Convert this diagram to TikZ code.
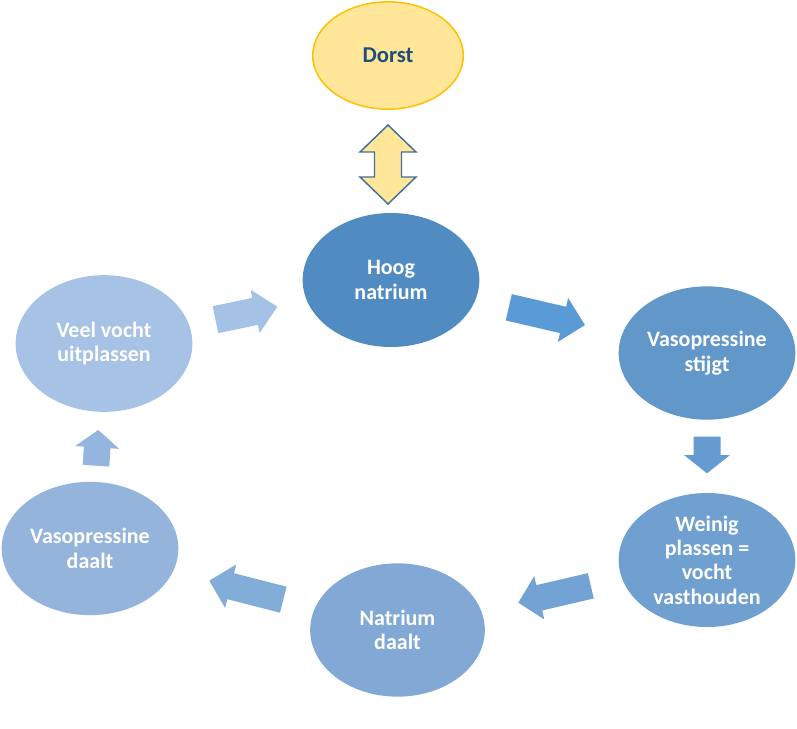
\documentclass[tikz,border=0pt]{standalone}
\usepackage{fontspec}
\setmainfont{Carlito}
\usetikzlibrary{shapes.geometric}
\definecolor{cHoog}{HTML}{508BC1}
\definecolor{cStijgt}{HTML}{6297CA}
\definecolor{cWeinig}{HTML}{6FA0D0}
\definecolor{cNatrium}{HTML}{82A9D6}
\definecolor{cDaalt}{HTML}{94B4DC}
\definecolor{cVeel}{HTML}{A6C2E4}
\definecolor{aOne}{HTML}{5B9BD5}
\definecolor{aTwo}{HTML}{659BD1}
\definecolor{aThree}{HTML}{73A3D4}
\definecolor{aFour}{HTML}{83ADD9}
\definecolor{aFive}{HTML}{94B6DE}
\definecolor{aSix}{HTML}{A4C2E6}
\definecolor{dorstFill}{HTML}{FFE699}
\definecolor{dorstLine}{HTML}{FFC000}
\definecolor{dorstText}{HTML}{1F4E79}
\definecolor{dblLine}{HTML}{41719C}
% #1,#2 back centre (px), #3 page angle, #4 length, #5 shaft width, #6 head width, #7 head length, #8 style
\newcommand\blockarrow[8]{%
  \begin{scope}[shift={(#1,#2)}, rotate=#3]
    \path[#8] (0,{-#5/2}) -- ({#4-#7},{-#5/2}) -- ({#4-#7},{-#6/2}) -- (#4,0)
      -- ({#4-#7},{#6/2}) -- ({#4-#7},{#5/2}) -- (0,{#5/2}) -- cycle;
  \end{scope}}
\tikzset{
  bub/.style={ellipse, inner sep=0pt, minimum width=132.5pt, minimum height=100pt,
    text=white, font=\bfseries\fontsize{16.5}{18.3}\selectfont, align=center},
  barrow/.style={fill=#1, draw=none}
}
\begin{document}
\begin{tikzpicture}[x=0.75pt,y=-0.75pt]
\useasboundingbox (0,0) rectangle (797,729);
\fill[white] (0,0) rectangle (797,729);

\node[ellipse, inner sep=0pt, minimum width=113pt, minimum height=80.5pt,
  fill=dorstFill, draw=dorstLine, line width=1.1pt, text=dorstText,
  font=\bfseries\fontsize{17}{19}\selectfont] (dorst) at (388,55.5) {Dorst};

\node[bub, fill=cHoog, minimum height=100.5pt] (hoog) at (391,280) {Hoog\\natrium};
\node[bub, fill=cStijgt] (stijgt) at (707,353) {Vasopressine\\stijgt};
\node[bub, fill=cWeinig, minimum height=100.5pt] (weinig) at (707,560) {Weinig\\plassen =\\vocht\\vasthouden};
\node[bub, fill=cNatrium, minimum width=131pt] (natrium) at (397.5,630) {Natrium\\daalt};
\node[bub, fill=cDaalt] (daalt) at (90,548.5) {Vasopressine\\daalt};
\node[bub, fill=cVeel, minimum height=102.5pt] (veel) at (104,343.5) {Veel vocht\\uitplassen};

% double arrow between Dorst and Hoog natrium
\path[fill=dorstFill, draw=dblLine, line width=1.1pt, line join=miter]
  (388,125) -- (416,152) -- (401.5,152) -- (401.5,177) -- (416,177) -- (388,204)
  -- (360,177) -- (374.5,177) -- (374.5,152) -- (360,152) -- cycle;

% cycle arrows
\blockarrow{508.8}{307.3}{-13.1}{78.2}{27}{45}{22.5}{barrow=aOne}
\blockarrow{707}{436.7}{-90}{36.6}{27}{46}{18.3}{barrow=aTwo}
\blockarrow{590.8}{585.8}{-166.9}{74.4}{26}{44.5}{21.5}{barrow=aThree}
\blockarrow{283.3}{599.7}{165.6}{76.4}{26.8}{45}{22.1}{barrow=aFour}
\blockarrow{96}{465.7}{86.3}{35.8}{26.6}{44}{17.5}{barrow=aFive}
\blockarrow{215.5}{319.7}{11.9}{63.2}{27.5}{44}{22.7}{barrow=aSix}
\end{tikzpicture}
\end{document}
